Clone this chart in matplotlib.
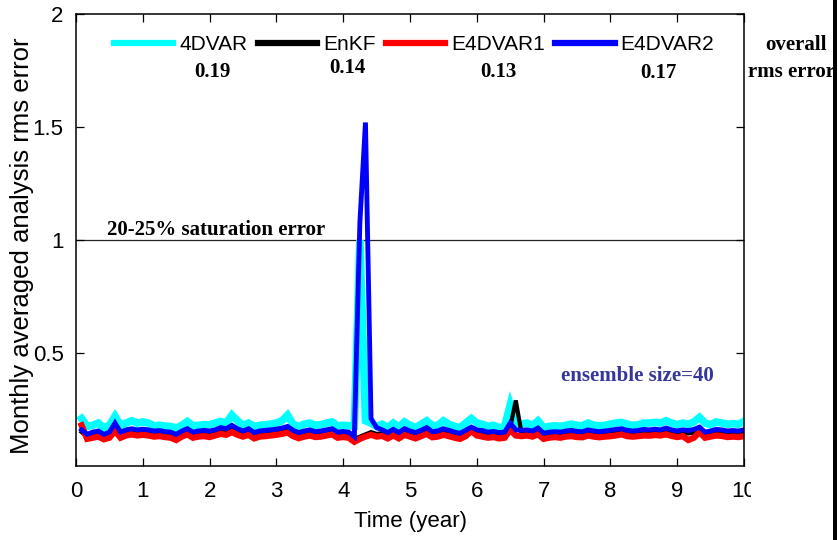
import matplotlib
matplotlib.use("Agg")
import matplotlib.pyplot as plt
from matplotlib import font_manager
from matplotlib.patches import Rectangle
from matplotlib.transforms import Bbox, TransformedBbox
import numpy as np

# ---- data: monthly averaged analysis rms error over 10 years ----
months = np.arange(1, 121)
time_years = months / 12.0

rms_4dvar = [
    0.21, 0.175, 0.18, 0.19, 0.17, 0.18, 0.22, 0.18, 0.19, 0.20,
    0.19, 0.195, 0.19, 0.178, 0.18, 0.177, 0.175, 0.168, 0.18, 0.197,
    0.178, 0.18, 0.183, 0.182, 0.19, 0.197, 0.19, 0.225, 0.20, 0.18,
    0.19, 0.175, 0.18, 0.182, 0.185, 0.19, 0.20, 0.225, 0.185, 0.175,
    0.185, 0.19, 0.18, 0.183, 0.19, 0.195, 0.178, 0.18, 0.178, 0.177,
    1.00, 0.20, 0.19, 0.175, 0.185, 0.17, 0.19, 0.172, 0.195, 0.18,
    0.17, 0.185, 0.20, 0.178, 0.18, 0.20, 0.185, 0.175, 0.17, 0.19,
    0.21, 0.19, 0.185, 0.175, 0.18, 0.17, 0.175, 0.27, 0.19, 0.185,
    0.19, 0.18, 0.20, 0.17, 0.175, 0.178, 0.175, 0.18, 0.185, 0.18,
    0.178, 0.19, 0.18, 0.178, 0.18, 0.185, 0.19, 0.193, 0.185, 0.18,
    0.182, 0.19, 0.19, 0.193, 0.19, 0.20, 0.19, 0.183, 0.19, 0.185,
    0.195, 0.215, 0.19, 0.183, 0.195, 0.19, 0.185, 0.187, 0.185, 0.197,
]

rms_enkf = [
    0.15, 0.13, 0.14, 0.145, 0.13, 0.14, 0.17, 0.14, 0.15, 0.152,
    0.148, 0.15, 0.147, 0.143, 0.145, 0.14, 0.138, 0.128, 0.143, 0.152,
    0.138, 0.142, 0.145, 0.14, 0.147, 0.155, 0.15, 0.165, 0.15, 0.142,
    0.15, 0.135, 0.142, 0.145, 0.147, 0.15, 0.155, 0.16, 0.145, 0.136,
    0.142, 0.147, 0.14, 0.142, 0.147, 0.152, 0.138, 0.14, 0.137, 0.12,
    0.13, 0.14, 0.15, 0.142, 0.145, 0.135, 0.148, 0.135, 0.15, 0.142,
    0.135, 0.145, 0.155, 0.14, 0.142, 0.15, 0.145, 0.137, 0.133, 0.145,
    0.158, 0.147, 0.143, 0.137, 0.14, 0.135, 0.145, 0.17, 0.29, 0.15,
    0.147, 0.142, 0.155, 0.133, 0.137, 0.14, 0.137, 0.142, 0.145, 0.14,
    0.14, 0.147, 0.142, 0.14, 0.142, 0.145, 0.148, 0.152, 0.145, 0.142,
    0.144, 0.148, 0.147, 0.15, 0.147, 0.155, 0.147, 0.142, 0.147, 0.144,
    0.148, 0.158, 0.138, 0.142, 0.148, 0.147, 0.142, 0.144, 0.142, 0.147,
]

rms_e4dvar1 = [
    0.18, 0.12, 0.125, 0.13, 0.118, 0.125, 0.155, 0.125, 0.135, 0.14,
    0.135, 0.138, 0.135, 0.13, 0.132, 0.128, 0.125, 0.115, 0.13, 0.14,
    0.125, 0.13, 0.132, 0.128, 0.135, 0.142, 0.138, 0.15, 0.138, 0.13,
    0.138, 0.122, 0.13, 0.132, 0.135, 0.138, 0.142, 0.148, 0.132, 0.123,
    0.13, 0.135, 0.128, 0.13, 0.135, 0.14, 0.125, 0.128, 0.125, 0.107,
    0.12, 0.13, 0.138, 0.13, 0.133, 0.122, 0.135, 0.122, 0.138, 0.13,
    0.122, 0.132, 0.142, 0.127, 0.13, 0.138, 0.132, 0.125, 0.12, 0.132,
    0.155, 0.135, 0.13, 0.125, 0.128, 0.122, 0.125, 0.16, 0.135, 0.132,
    0.135, 0.13, 0.14, 0.12, 0.125, 0.128, 0.125, 0.13, 0.132, 0.128,
    0.127, 0.135, 0.13, 0.127, 0.13, 0.132, 0.135, 0.14, 0.132, 0.13,
    0.132, 0.135, 0.134, 0.137, 0.135, 0.14, 0.133, 0.128, 0.132, 0.115,
    0.125, 0.15, 0.125, 0.13, 0.135, 0.133, 0.128, 0.13, 0.128, 0.132,
]

rms_e4dvar2 = [
    0.16, 0.14, 0.15, 0.155, 0.14, 0.15, 0.19, 0.15, 0.16, 0.165,
    0.16, 0.163, 0.16, 0.155, 0.157, 0.152, 0.15, 0.14, 0.155, 0.165,
    0.15, 0.155, 0.158, 0.155, 0.16, 0.17, 0.165, 0.18, 0.165, 0.155,
    0.165, 0.148, 0.155, 0.158, 0.16, 0.163, 0.168, 0.175, 0.158, 0.148,
    0.155, 0.16, 0.152, 0.155, 0.16, 0.165, 0.15, 0.153, 0.15, 0.13,
    1.08, 1.52, 0.21, 0.17, 0.16, 0.148, 0.162, 0.148, 0.165, 0.155,
    0.148, 0.158, 0.17, 0.152, 0.155, 0.165, 0.158, 0.15, 0.145, 0.158,
    0.172, 0.16, 0.157, 0.15, 0.153, 0.148, 0.15, 0.19, 0.16, 0.158,
    0.16, 0.155, 0.168, 0.145, 0.15, 0.152, 0.15, 0.155, 0.158, 0.153,
    0.152, 0.16, 0.155, 0.152, 0.155, 0.158, 0.162, 0.165, 0.158, 0.155,
    0.157, 0.162, 0.16, 0.163, 0.16, 0.168, 0.16, 0.155, 0.16, 0.157,
    0.162, 0.172, 0.15, 0.155, 0.162, 0.16, 0.155, 0.157, 0.155, 0.16,
]

series_names = ["4DVAR", "EnKF", "E4DVAR1", "E4DVAR2"]
series_colors = ["#00ffff", "#000000", "#ff0000", "#0000ff"]
overall_rms = ["0.19", "0.14", "0.13", "0.17"]
x_ticks = list(range(0, 11))
y_ticks = [0.5, 1.0, 1.5, 2.0]
y_tick_labels = ["0.5", "1", "1.5", "2"]


def pick_family(candidates):
    names = {f.name for f in font_manager.fontManager.ttflist}
    for c in candidates:
        if c in names:
            return c
    return "DejaVu Sans"


NARROW = pick_family(["Liberation Sans Narrow", "DejaVu Sans Condensed",
                      "Liberation Sans"])
SANS = pick_family(["Liberation Sans", "DejaVu Sans"])
SERIF = pick_family(["Liberation Serif", "DejaVu Serif"])

W, H = 838, 540
fig = plt.figure(figsize=(W / 100, H / 100), dpi=100)
fig.patch.set_facecolor("white")


def fx(px):
    return px / W


def fy(py):
    return 1 - py / H


ax = fig.add_axes([fx(76), fy(466), fx(744) - fx(76), fy(14) - fy(466)])

widths = [5.5, 3.0, 4.5, 3.5]
series = [rms_4dvar, rms_enkf, rms_e4dvar1, rms_e4dvar2]
handles = []
for name, vals, col, lw in zip(series_names, series, series_colors, widths):
    (ln,) = ax.plot(time_years, vals, color=col, lw=lw, label=name,
                    solid_joinstyle="miter")
    handles.append(ln)

ax.axhline(1.0, color="#222222", lw=0.9, zorder=1)

ax.set_xlim(0, 10)
ax.set_ylim(0, 2)
ax.set_xticks(x_ticks)
ax.set_yticks(y_ticks)
ax.set_yticklabels(y_tick_labels)
ax.tick_params(direction="in", length=6, width=0.9, top=True, right=True,
               labelsize=16)
ax.tick_params(axis="x", pad=11)
ax.tick_params(axis="y", pad=9)
for lab in ax.get_xticklabels() + ax.get_yticklabels():
    lab.set_fontfamily(NARROW)
for sp in ax.spines.values():
    sp.set_linewidth(1.1)

# the right-most tick label is cut off at the figure's panel edge
clip = TransformedBbox(Bbox([[0, 0], [fx(751), 1]]), fig.transFigure)
for lab in ax.get_xticklabels():
    lab.set_clip_box(clip)
    lab.set_clip_on(True)

leg = ax.legend(handles=handles, ncol=4, frameon=False, loc="center",
                bbox_to_anchor=(fx(414), fy(45)), bbox_transform=fig.transFigure,
                handlelength=2.85, handletextpad=0.28, columnspacing=0.5,
                borderpad=0.0, prop={"family": NARROW, "size": 15})
for lh in leg.get_lines():
    lh.set_linewidth(4.5)

# overall rms error under each legend entry
for txt, (px, py) in zip(overall_rms, [(212, 72), (347, 68), (498, 72), (658, 73)]):
    fig.text(fx(px), fy(py), txt, ha="center", va="center", family=SERIF,
             weight="bold", fontsize=15)

fig.text(fx(796), fy(45), "overall", ha="center", va="center", family=SERIF,
         weight="bold", fontsize=15)
fig.text(fx(748), fy(72), "rms error", ha="left", va="center", family=SERIF,
         weight="bold", fontsize=15)

ax.text(0.47, 1.0, "20-25% saturation error", transform=ax.transData,
        ha="left", va="bottom", family=SERIF, weight="bold", fontsize=15)
fig.text(fx(637), fy(376), "ensemble size=40", ha="center", va="center",
         family=SERIF, weight="bold", fontsize=15, color="#35359a")

fig.text(fx(410), fy(522), "Time (year)", ha="center", va="center",
         family=NARROW, fontsize=16)
fig.text(fx(22), fy(246), "Monthly averaged analysis rms error", ha="center",
         va="center", rotation=90, family=SANS, fontsize=18.5)

# panel border on the right edge
fig.patches.append(Rectangle((fx(833), 0), fx(4), 1, transform=fig.transFigure,
                             facecolor="black", edgecolor="none", zorder=20))

fig.savefig("out.png", dpi=100, facecolor="white")
